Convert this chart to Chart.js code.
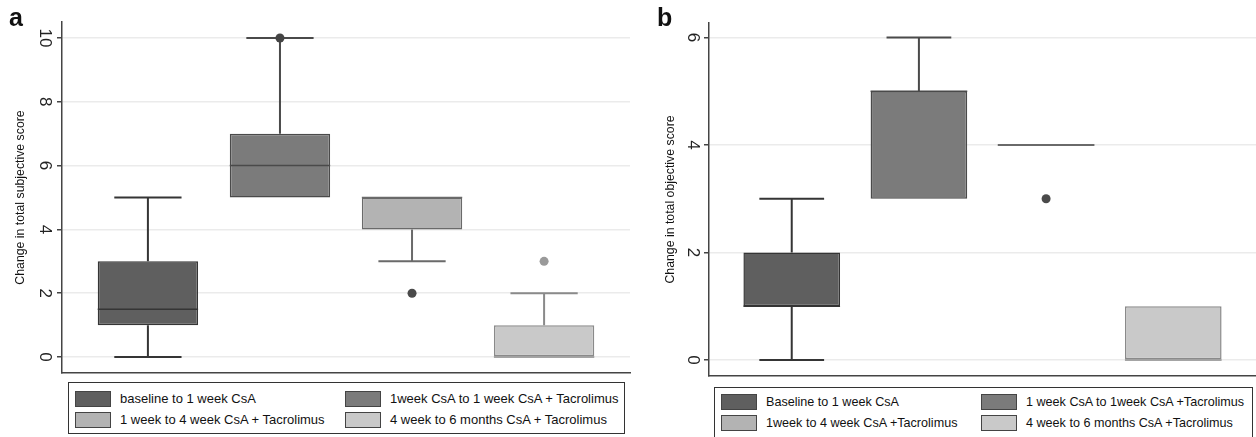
<!DOCTYPE html>
<html>
<head>
<meta charset="utf-8">
<script src="https://cdn.jsdelivr.net/npm/chart.js@4.4.1/dist/chart.umd.min.js"></script>
<style>
  body { margin: 0; background: #fff; font-family: "Liberation Sans", Arial, sans-serif; }
  #wrap { position: relative; width: 1256px; height: 437px; overflow: hidden; }
  .panel { position: absolute; top: 0; }
  .tag { position: absolute; top: 5px; font-weight: bold; font-size: 25px; line-height: 25px; color: #111; }
  .legend { position: absolute; border: 1.5px solid #333; box-sizing: border-box; }
  .item { position: absolute; line-height: 16px; color: #111; white-space: nowrap; }
  .sw { position: absolute; width: 36px; height: 16px; border: 1.5px solid #444; box-sizing: border-box; }
</style>
</head>
<body>
<div id="wrap">
  <canvas id="chartA" class="panel" style="left:0" width="640" height="380"></canvas>
  <canvas id="chartB" class="panel" style="left:640px" width="616" height="380"></canvas>
  <div class="tag" style="left:9px">a</div>
  <div class="tag" style="left:657px">b</div>
  <div id="legendA" class="legend" style="left:68px; top:382px; width:557px; height:52px"></div>
  <div id="legendB" class="legend" style="left:714px; top:387px; width:539px; height:53px"></div>
</div>
<script>
// panel a - subjective score
const labelsA = [
  "baseline to 1 week CsA",
  "1week CsA to 1 week CsA + Tacrolimus",
  "1 week to 4 week CsA + Tacrolimus",
  "4 week to 6 months CsA + Tacrolimus",
];
const lowA = [0, 5, 3, 0];
const q1A = [1, 5, 4, 0];
const medA = [1.5, 6, 5, 0];
const q3A = [3, 7, 5, 1];
const highA = [5, 10, 5, 2];
const outliersA = [[], [10], [2], [3]];
const ticksA = [0, 2, 4, 6, 8, 10];

// panel b - objective score
const labelsB = [
  "Baseline to 1 week CsA",
  "1 week CsA to 1week CsA +Tacrolimus",
  "1week to 4 week CsA +Tacrolimus",
  "4 week to 6 months CsA +Tacrolimus",
];
const lowB = [0, 3, 4, 0];
const q1B = [1, 3, 4, 0];
const medB = [1, 5, 4, 0];
const q3B = [2, 5, 4, 1];
const highB = [3, 6, 4, 1];
const outliersB = [[], [], [3], []];
const ticksB = [0, 2, 4, 6];

// shades for the four groups
const fills = ["#5f5f5f", "#7b7b7b", "#b3b3b3", "#c9c9c9"];
const edges = ["#353535", "#4a4a4a", "#6a6a6a", "#8a8a8a"];
const dots = ["#444444", "#444444", "#4a4a4a", "#9a9a9a"];

const FONT = "'Liberation Sans', Arial, sans-serif";

// whiskers, medians and outliers on top of the floating bars
const boxplotPlugin = {
  id: "boxplot",
  afterDatasetsDraw(chart) {
    const ctx = chart.ctx;
    const y = chart.scales.y;
    chart.data.datasets.forEach((ds, i) => {
      const bar = chart.getDatasetMeta(i).data[0];
      const { x, width } = bar.getProps(["x", "width"], true);
      const cap = width * 0.67;
      ctx.save();
      ctx.strokeStyle = ds.borderColor;
      ctx.lineWidth = 2;
      const whisker = (from, to) => {
        if (from === to) return;
        ctx.beginPath();
        ctx.moveTo(x, y.getPixelForValue(from));
        ctx.lineTo(x, y.getPixelForValue(to));
        ctx.moveTo(x - cap / 2, y.getPixelForValue(to));
        ctx.lineTo(x + cap / 2, y.getPixelForValue(to));
        ctx.stroke();
      };
      whisker(ds.data[0][1], ds.high);
      whisker(ds.data[0][0], ds.low);
      // median
      ctx.lineWidth = ds.data[0][0] === ds.data[0][1] ? 2 : 1.5;
      ctx.beginPath();
      ctx.moveTo(x - width / 2, y.getPixelForValue(ds.median));
      ctx.lineTo(x + width / 2, y.getPixelForValue(ds.median));
      ctx.stroke();
      // outliers
      ctx.fillStyle = ds.dotColor;
      ds.outliers.forEach((v) => {
        ctx.beginPath();
        ctx.arc(x, y.getPixelForValue(v), 4.5, 0, Math.PI * 2);
        ctx.fill();
      });
      ctx.restore();
    });
  },
};

function makeBoxChart(id, cfg) {
  const datasets = cfg.labels.map((label, i) => ({
    label: label,
    data: [[cfg.q1[i], cfg.q3[i]]],
    low: cfg.low[i],
    high: cfg.high[i],
    median: cfg.med[i],
    outliers: cfg.outliers[i],
    backgroundColor: fills[i],
    borderColor: edges[i],
    dotColor: dots[i],
    borderWidth: 1.5,
    borderSkipped: false,
  }));

  return new Chart(document.getElementById(id), {
    type: "bar",
    data: { labels: [""], datasets: datasets },
    options: {
      responsive: false,
      animation: false,
      events: [],
      categoryPercentage: 0.93,
      barPercentage: 0.76,
      layout: { padding: cfg.padding },
      plugins: { legend: { display: false }, tooltip: { enabled: false } },
      scales: {
        x: {
          ticks: { display: false },
          grid: { display: false },
          border: { color: "#444", width: 1.5 },
          afterFit(scale) { scale.height = cfg.xHeight; },
        },
        y: {
          min: cfg.min,
          max: cfg.max,
          afterBuildTicks(scale) { scale.ticks = cfg.ticks.map((v) => ({ value: v })); },
          afterFit(scale) {
            scale.width = cfg.yWidth;
            // no extra room for the rotated end labels
            scale.paddingTop = 0;
            scale.paddingBottom = 0;
          },
          grid: { color: "#ebebeb", lineWidth: 1.5, tickColor: "#444", tickLength: 5, tickWidth: 1.5 },
          border: { color: "#444", width: 1.5 },
          ticks: {
            minRotation: -90,
            maxRotation: -90,
            crossAlign: "center",
            padding: cfg.tickPad,
            color: "#222",
            font: { family: FONT, size: 17 },
          },
          title: {
            display: true,
            text: cfg.title,
            color: "#111",
            font: { family: FONT, size: 12.3 },
            padding: { top: cfg.titlePad, bottom: 0 },
          },
        },
      },
    },
    plugins: [boxplotPlugin],
  });
}

function makeLegend(id, chart, cols, rows, textGap, fontSize) {
  const box = document.getElementById(id);
  chart.data.datasets.forEach((ds, i) => {
    const sw = document.createElement("div");
    sw.className = "sw";
    sw.style.background = ds.backgroundColor;
    sw.style.left = cols[i % 2] + "px";
    sw.style.top = (rows[Math.floor(i / 2)] - 8) + "px";
    const tx = document.createElement("div");
    tx.className = "item";
    tx.textContent = ds.label;
    tx.style.fontSize = fontSize + "px";
    tx.style.left = (cols[i % 2] + textGap) + "px";
    tx.style.top = (rows[Math.floor(i / 2)] - 8) + "px";
    box.appendChild(sw);
    box.appendChild(tx);
  });
}

const chartA = makeBoxChart("chartA", {
  labels: labelsA, low: lowA, q1: q1A, med: medA, q3: q3A, high: highA, outliers: outliersA,
  ticks: ticksA, min: -0.5, max: 10.5,
  title: "Change in total subjective score",
  padding: { top: 22, right: 10, bottom: 0, left: 0 },
  xHeight: 7, yWidth: 62, titlePad: 13, tickPad: 3,
});

const chartB = makeBoxChart("chartB", {
  labels: labelsB, low: lowB, q1: q1B, med: medB, q3: q3B, high: highB, outliers: outliersB,
  ticks: ticksB, min: -0.3, max: 6.27,
  title: "Change in total objective score",
  padding: { top: 23, right: 0, bottom: 0, left: 0 },
  xHeight: 4, yWidth: 69, titlePad: 23, tickPad: 7,
});

makeLegend("legendA", chartA, [6, 276], [16, 37], 45, 13);
makeLegend("legendB", chartB, [6, 266], [14, 35], 45, 12.6);
</script>
</body>
</html>
